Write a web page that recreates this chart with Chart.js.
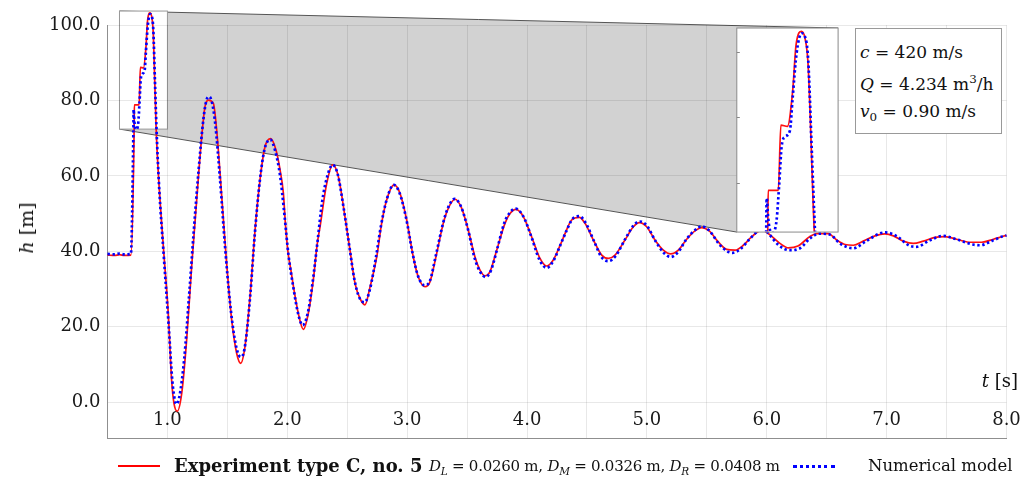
<!DOCTYPE html>
<html>
<head>
<meta charset="utf-8">
<script src="https://cdn.jsdelivr.net/npm/chart.js@4.4.1/dist/chart.umd.min.js"></script>
<style>
  body { margin: 0; background: #fff; }
  #wrap { position: relative; width: 1033px; height: 481px; font-family: "DejaVu Serif", serif; color: #111; }
  #wrap canvas { position: absolute; left: 0; top: 0; }
  .abs { position: absolute; white-space: nowrap; }
  #note { position: absolute; left: 855px; top: 28px; width: 147px; height: 106px; box-sizing: border-box;
          border: 1px solid #999; background: #fff; font-size: 17px; }
  #note div { position: absolute; left: 4px; line-height: 17px; white-space: nowrap; }
  #ytitle { left: 26px; top: 228px; font-size: 19px; transform: translate(-50%, -50%) rotate(-90deg); }
  #xtitle { right: 15px; top: 370px; font-size: 18px; }
  .leg { top: 456px; line-height: 20px; font-size: 16.5px; }
  .swatch { position: absolute; width: 42px; }
  sub, sup { font-size: 70%; line-height: 0; }
</style>
</head>
<body>
<div id="wrap">
  <canvas id="myChart" width="1033" height="481"></canvas>
  <div id="ytitle" class="abs"><i>h</i> [m]</div>
  <div id="xtitle" class="abs"><i>t</i> [s]</div>
  <div id="note">
    <div style="top:15px"><i>c</i> = 420 m/s</div>
    <div style="top:47px"><i>Q</i> = 4.234 m<sup>3</sup>/h</div>
    <div style="top:74px"><i>v</i><sub>0</sub> = 0.90 m/s</div>
  </div>
  <div class="swatch" style="left:118px; top:465px; border-top:2px solid #ff0000;"></div>
  <div class="abs leg" style="left:174px; font-weight:bold; font-size:18px;">Experiment type C, no. 5</div>
  <div class="abs leg" style="left:429px; font-size:15px; letter-spacing:-0.25px;"><i>D<sub>L</sub></i> = 0.0260 m, <i>D<sub>M</sub></i> = 0.0326 m, <i>D<sub>R</sub></i> = 0.0408 m</div>
  <div class="swatch" style="left:793px; top:465px; border-top:3px dotted #0000ff;"></div>
  <div class="abs leg" style="left:868px;">Numerical model</div>
</div>
<script>
'use strict';

// experiment (red) - time [s] and head [m]
var expTime = [0.50, 0.56, 0.60, 0.64, 0.695, 0.722, 0.724, 0.764, 0.774, 0.800, 0.821, 0.834, 0.856, 0.873, 0.882, 0.906,
  0.924, 0.966, 1.007, 1.035, 1.055, 1.082, 1.119, 1.160, 1.202, 1.244, 1.286, 1.313, 1.341, 1.383, 1.411, 1.453,
  1.494, 1.536, 1.578, 1.611, 1.647, 1.689, 1.731, 1.772, 1.814, 1.861, 1.906, 1.940, 1.967, 1.985, 2.005, 2.030,
  2.060, 2.092, 2.134, 2.175, 2.217, 2.250, 2.273, 2.329, 2.379, 2.426, 2.481, 2.523, 2.565, 2.606, 2.648, 2.690,
  2.746, 2.787, 2.829, 2.890, 2.940, 2.996, 3.051, 3.093, 3.149, 3.190, 3.246, 3.301, 3.343, 3.399, 3.455, 3.510,
  3.566, 3.608, 3.649, 3.691, 3.747, 3.816, 3.858, 3.908, 3.969, 4.039, 4.108, 4.164, 4.219, 4.275, 4.317, 4.372,
  4.436, 4.484, 4.553, 4.623, 4.678, 4.734, 4.817, 4.887, 4.937, 4.998, 5.067, 5.137, 5.198, 5.262, 5.332, 5.401,
  5.457, 5.520, 5.595, 5.666, 5.735, 5.804, 5.860, 5.916, 5.960, 6.012, 6.110, 6.180, 6.260, 6.360, 6.416, 6.513,
  6.583, 6.653, 6.722, 6.805, 6.903, 6.986, 7.056, 7.139, 7.222, 7.306, 7.403, 7.487, 7.584, 7.695, 7.793, 7.890,
  7.973, 8.000];
var expHead = [39.0, 38.9, 39.1, 38.9, 39.0, 72.0, 78.8, 78.8, 88.8, 88.6, 94.2, 101.1, 103.2, 101.4, 97.8, 72.4,
  60.7, 41.2, 23.5, 5.8, -0.4, -2.4, 2.3, 16.4, 35.9, 53.6, 70.4, 78.3, 80.1, 79.2, 72.1, 54.5,
  36.8, 21.8, 12.9, 10.3, 14.7, 27.9, 45.6, 58.9, 67.7, 69.9, 66.8, 61.5, 55.5, 47.0, 40.0, 35.0,
  29.0, 23.5, 19.3, 23.5, 32.4, 42.0, 46.5, 58.0, 62.9, 59.8, 49.2, 40.3, 31.5, 27.5, 25.8, 30.5,
  38.5, 47.4, 53.6, 57.6, 55.4, 48.3, 38.5, 33.2, 30.6, 31.9, 39.4, 47.4, 51.4, 53.8, 51.4, 45.6,
  38.5, 35.0, 33.5, 34.6, 40.3, 47.4, 50.0, 51.1, 49.2, 43.8, 38.1, 36.1, 37.7, 41.5, 44.7, 48.3,
  49.0, 47.4, 43.0, 39.0, 38.1, 39.0, 43.0, 46.5, 47.6, 46.5, 43.0, 40.3, 39.3, 40.3, 43.2, 45.4,
  46.3, 45.4, 42.5, 40.5, 40.3, 41.6, 43.4, 45.0, 45.6, 44.7, 42.1, 40.9, 41.4, 43.9, 44.7, 44.7,
  43.0, 41.8, 41.6, 42.7, 44.1, 44.6, 44.1, 42.7, 42.1, 42.7, 43.7, 43.9, 43.2, 42.4, 42.4, 43.2,
  44.0, 44.2];

// numerical model (blue)
var modelTime = [0.50, 0.56, 0.60, 0.64, 0.695, 0.716, 0.718, 0.724, 0.732, 0.742, 0.757, 0.767, 0.777, 0.790, 0.810, 0.820,
  0.836, 0.856, 0.869, 0.882, 0.896, 0.909, 0.930, 0.970, 1.010, 1.040, 1.062, 1.075, 1.100, 1.140, 1.180, 1.220,
  1.260, 1.300, 1.325, 1.349, 1.375, 1.400, 1.440, 1.480, 1.520, 1.560, 1.595, 1.619, 1.650, 1.690, 1.730, 1.770,
  1.810, 1.858, 1.900, 1.940, 1.975, 2.010, 2.050, 2.090, 2.128, 2.170, 2.210, 2.250, 2.290, 2.330, 2.378, 2.420,
  2.470, 2.520, 2.560, 2.600, 2.645, 2.690, 2.740, 2.780, 2.830, 2.887, 2.935, 2.990, 3.045, 3.090, 3.145, 3.190,
  3.240, 3.300, 3.340, 3.397, 3.450, 3.510, 3.560, 3.610, 3.655, 3.700, 3.750, 3.810, 3.860, 3.905, 3.970, 4.040,
  4.100, 4.165, 4.220, 4.280, 4.330, 4.380, 4.436, 4.490, 4.560, 4.620, 4.678, 4.740, 4.820, 4.890, 4.940, 5.000,
  5.070, 5.140, 5.198, 5.260, 5.330, 5.400, 5.457, 5.520, 5.600, 5.670, 5.715, 5.780, 5.850, 5.920, 5.970, 6.020,
  6.100, 6.190, 6.277, 6.360, 6.440, 6.530, 6.610, 6.720, 6.830, 6.940, 6.990, 7.080, 7.190, 7.250, 7.360, 7.470,
  7.580, 7.720, 7.780, 7.890, 7.970, 8.000];
var modelHead = [39.3, 39.2, 39.4, 39.2, 39.3, 72.0, 77.6, 74.5, 72.6, 72.3, 74.2, 79.4, 85.5, 87.0, 88.0, 92.7,
  99.8, 102.9, 102.4, 98.8, 85.0, 72.4, 57.5, 38.5, 20.5, 6.0, 0.5, -0.5, 1.5, 11.5, 28.0, 45.5,
  61.5, 75.0, 80.0, 81.0, 79.0, 73.5, 58.5, 41.5, 27.0, 17.0, 12.5, 12.0, 15.5, 28.0, 45.0, 58.5,
  67.0, 69.6, 66.5, 60.0, 50.0, 39.0, 30.5, 23.5, 20.4, 23.5, 31.5, 42.0, 53.0, 59.5, 62.9, 60.5,
  51.5, 40.8, 32.5, 27.8, 26.5, 30.0, 38.5, 46.5, 53.8, 57.6, 55.6, 49.0, 39.5, 33.5, 31.0, 32.2,
  39.0, 47.5, 51.5, 53.9, 51.8, 45.5, 38.5, 34.5, 33.2, 35.0, 40.5, 47.5, 50.4, 51.3, 49.2, 43.5,
  38.0, 35.6, 37.5, 41.8, 45.5, 48.6, 49.3, 47.5, 42.6, 38.5, 37.4, 38.8, 43.3, 46.9, 47.9, 46.8,
  42.8, 39.6, 38.5, 39.8, 43.2, 45.6, 46.6, 45.5, 42.0, 40.0, 39.6, 40.6, 43.0, 45.2, 46.0, 44.5,
  41.6, 40.3, 40.8, 43.4, 44.7, 44.4, 42.1, 40.8, 42.7, 44.7, 45.0, 44.1, 41.5, 41.2, 42.9, 44.1,
  43.2, 41.8, 41.6, 42.9, 44.0, 44.2];

// axis ticks
var hTicks = [0, 20, 40, 60, 80, 100];
var tTicks = [1, 2, 3, 4, 5, 6, 7, 8];

// zoomed window (small box) and where it is shown (big box), in data units of the main axes
var zoomWin = { t0: 0.6, t1: 1.0, h0: 72.4, h1: 103.7 };
var insetBox = { t0: 5.75, t1: 6.595, h0: 45.1, h1: 99.2 };
var tRange = [0.5, 8.0];
var hRange = [-9.5, 100];

// hidden axes that map the zoom window onto the inset box
var kx = (zoomWin.t1 - zoomWin.t0) / (insetBox.t1 - insetBox.t0);
var ky = (zoomWin.h1 - zoomWin.h0) / (insetBox.h1 - insetBox.h0);
var xiMin = zoomWin.t0 - (insetBox.t0 - tRange[0]) * kx;
var xiMax = zoomWin.t1 + (tRange[1] - insetBox.t1) * kx;
var yiMin = zoomWin.h0 - (insetBox.h0 - hRange[0]) * ky;
var yiMax = zoomWin.h1 + (hRange[1] - insetBox.h1) * ky;

var tickFont = { family: 'DejaVu Serif', size: 18 };

function toPoints(ts, hs) {
  return ts.map(function(t, i) { return { x: t, y: hs[i] }; });
}

function boxPx(chart, b) {
  var x = chart.scales.x, y = chart.scales.y;
  return { l: x.getPixelForValue(b.t0), r: x.getPixelForValue(b.t1),
           t: y.getPixelForValue(b.h1), b: y.getPixelForValue(b.h0) };
}

var zoomPlugin = {
  id: 'zoomInset',
  beforeDraw: function(chart) {
    var ctx = chart.ctx;
    var a = boxPx(chart, zoomWin), b = boxPx(chart, insetBox);
    ctx.save();
    ctx.fillStyle = '#d2d2d2';
    ctx.beginPath();
    ctx.moveTo(a.l, a.t);
    ctx.lineTo(b.r, b.t);
    ctx.lineTo(b.r, b.b);
    ctx.lineTo(b.l, b.b);
    ctx.lineTo(a.l, a.b);
    ctx.closePath();
    ctx.fill();
    ctx.strokeStyle = '#555';
    ctx.lineWidth = 1;
    ctx.beginPath();
    ctx.moveTo(a.l, a.t); ctx.lineTo(b.r, b.t);
    ctx.moveTo(a.l, a.b); ctx.lineTo(b.l, b.b);
    ctx.stroke();
    ctx.fillStyle = '#fff';
    ctx.fillRect(a.l, a.t, a.r - a.l, a.b - a.t);
    ctx.strokeStyle = '#999';
    ctx.strokeRect(a.l, a.t, a.r - a.l, a.b - a.t);
    ctx.restore();
  },
  //x tick labels sit inside the plot, above the bottom axis line
  beforeDatasetsDraw: function(chart) {
    var ctx = chart.ctx;
    var x = chart.scales.x;
    ctx.save();
    ctx.font = tickFont.size + 'px "' + tickFont.family + '"';
    ctx.fillStyle = '#1a1a1a';
    ctx.textAlign = 'center';
    ctx.textBaseline = 'middle';
    tTicks.forEach(function(v) {
      ctx.fillText(v.toFixed(1), x.getPixelForValue(v), chart.chartArea.bottom - 18);
    });
    ctx.restore();
  },
  beforeDatasetDraw: function(chart, args) {
    if (args.index < 2) return;
    var ctx = chart.ctx;
    var b = boxPx(chart, insetBox);
    if (args.index === 2) {
      ctx.save();
      ctx.fillStyle = '#fff';
      ctx.fillRect(b.l, b.t, b.r - b.l, b.b - b.t);
      // small ticks on the inset's left edge
      var yi = chart.scales.yi;
      ctx.strokeStyle = '#888';
      ctx.beginPath();
      [80, 90, 100].forEach(function(v) {
        var py = Math.round(yi.getPixelForValue(v)) + 0.5;
        ctx.moveTo(b.l, py); ctx.lineTo(b.l + 3, py);
      });
      ctx.stroke();
      ctx.restore();
    }
    ctx.save();
    ctx.beginPath();
    ctx.rect(b.l + 0.5, b.t + 0.5, b.r - b.l - 1, b.b - b.t - 1);
    ctx.clip();
  },
  afterDatasetDraw: function(chart, args) {
    if (args.index < 2) return;
    var ctx = chart.ctx;
    ctx.restore();
    if (args.index === 3) {
      var b = boxPx(chart, insetBox);
      ctx.save();
      ctx.strokeStyle = '#8a8a8a';
      ctx.lineWidth = 1;
      ctx.strokeRect(b.l, b.t, b.r - b.l, b.b - b.t);
      ctx.restore();
    }
  }
};

var redLine = { borderColor: '#ff1010', borderWidth: 1.7, pointRadius: 0, cubicInterpolationMode: 'monotone' };
var blueLine = { borderColor: '#0000ff', borderWidth: 2.7, borderDash: [2.4, 2.6], borderCapStyle: 'butt',
                 pointRadius: 0, cubicInterpolationMode: 'monotone' };

var ctx = document.getElementById('myChart').getContext('2d');

var chart = new Chart(ctx, {
  type: 'line',
  data: {
    datasets: [
      Object.assign({ label: 'Experiment type C, no. 5', data: toPoints(expTime, expHead), order: 4, clip: false }, redLine),
      Object.assign({ label: 'Numerical model', data: toPoints(modelTime, modelHead), order: 3, clip: false }, blueLine),
      Object.assign({ label: 'exp zoom', data: toPoints(expTime, expHead), order: 2, xAxisID: 'xi', yAxisID: 'yi' }, redLine),
      Object.assign({ label: 'model zoom', data: toPoints(modelTime, modelHead), order: 1, xAxisID: 'xi', yAxisID: 'yi' }, blueLine)
    ]
  },
  options: {
    responsive: false,
    animation: false,
    devicePixelRatio: 1,
    layout: { padding: { left: 0, right: 26.5, top: 25, bottom: 0 } },
    plugins: { legend: { display: false }, tooltip: { enabled: false } },
    scales: {
      x: {
        type: 'linear', min: tRange[0], max: tRange[1],
        afterBuildTicks: function(scale) {
          var ticks = [];
          for (var v = tRange[0]; v <= tRange[1] + 1e-9; v += 0.5) ticks.push({ value: v });
          scale.ticks = ticks;
        },
        afterFit: function(scale) { scale.height = 43; },
        ticks: { display: false },
        grid: { color: 'rgba(0,0,0,0.09)', drawTicks: false },
        border: { color: '#8f8f8f' }
      },
      y: {
        type: 'linear', min: hRange[0], max: hRange[1],
        afterBuildTicks: function(scale) {
          scale.ticks = hTicks.map(function(v) { return { value: v }; });
        },
        afterFit: function(scale) { scale.width = 107.5; },
        ticks: {
          padding: 7, font: tickFont, color: '#1a1a1a',
          callback: function(v) { return v.toFixed(1); }
        },
        grid: { color: 'rgba(0,0,0,0.09)', drawTicks: false },
        border: { color: '#8f8f8f' }
      },
      xi: { type: 'linear', display: false, min: xiMin, max: xiMax },
      yi: { type: 'linear', display: false, min: yiMin, max: yiMax }
    }
  },
  plugins: [zoomPlugin]
});
</script>
</body>
</html>
